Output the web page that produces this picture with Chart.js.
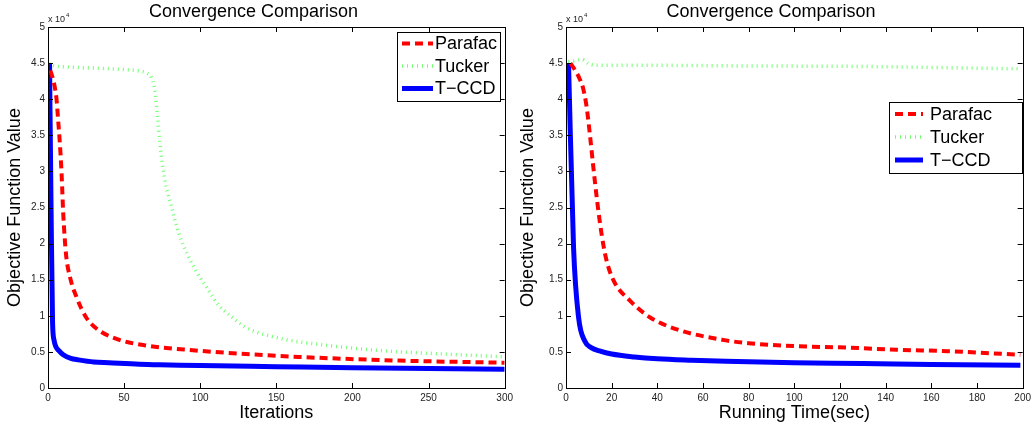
<!DOCTYPE html>
<html>
<head>
<meta charset="utf-8">
<script src="https://cdn.jsdelivr.net/npm/chart.js@4.4.1/dist/chart.umd.min.js"></script>
<style>
  body { margin: 0; background: #fff; }
  canvas { position: absolute; top: 0; }
  #chartLeft { left: 0; }
  #chartRight { left: 517px; }
</style>
</head>
<body>
<canvas id="chartLeft" width="517" height="428"></canvas>
<canvas id="chartRight" width="518" height="428"></canvas>
<script>
// objective values are in units of 10^4

// left: vs iterations
const leftParafacX = [1.5, 3, 4.6, 5.6, 6.7, 7.6, 8.9, 10, 11.8, 14.4, 18.7, 25, 32, 45, 64, 97, 130, 165, 230, 300];
const leftParafacY = [4.4, 4.3, 4.15, 4.0, 3.7, 3.45, 2.98, 2.42, 1.86, 1.54, 1.26, 0.98, 0.82, 0.68, 0.59, 0.52, 0.47, 0.43, 0.38, 0.35];
const leftTuckerX = [0.5, 1.3, 10, 32, 50, 60, 65, 68, 70, 72, 74, 77, 80, 86, 97, 104, 112, 120, 130, 152, 184, 217, 261, 300];
const leftTuckerY = [4.5, 4.48, 4.45, 4.43, 4.41, 4.39, 4.36, 4.3, 4.15, 3.75, 3.3, 2.85, 2.6, 2.14, 1.63, 1.4, 1.15, 1.0, 0.84, 0.69, 0.59, 0.52, 0.47, 0.43];
const leftTccdX = [1, 2, 3, 4, 5, 7, 10, 15, 20, 30, 40, 60, 80, 100, 150, 200, 250, 300];
const leftTccdY = [4.5, 2.5, 0.9, 0.66, 0.58, 0.52, 0.46, 0.41, 0.39, 0.36, 0.35, 0.33, 0.32, 0.31, 0.295, 0.28, 0.27, 0.26];

// right: vs running time (sec)
const rightParafacX = [1.9, 4, 6, 7.5, 9, 10.5, 12, 13.6, 15.5, 17.5, 20.8, 28, 36.7, 49.8, 70, 80, 100, 123, 145, 167, 199];
const rightParafacY = [4.5, 4.4, 4.28, 4.15, 3.9, 3.5, 3.05, 2.6, 2.15, 1.8, 1.49, 1.21, 0.98, 0.8, 0.66, 0.62, 0.58, 0.56, 0.53, 0.51, 0.46];
const rightTuckerX = [1, 4, 7, 10, 13, 36, 80, 123, 160, 199];
const rightTuckerY = [4.52, 4.53, 4.55, 4.49, 4.47, 4.47, 4.46, 4.455, 4.44, 4.42];
const rightTccdX = [1.1, 3.3, 5.5, 8.4, 11, 15, 20, 30, 40, 55, 70, 100, 130, 160, 199];
const rightTccdY = [4.5, 1.95, 0.98, 0.64, 0.56, 0.51, 0.47, 0.43, 0.405, 0.385, 0.37, 0.35, 0.34, 0.325, 0.315];

const seriesNames = ["Parafac", "Tucker", "T\u2212CCD"];
const yTickMax = 5;
const yTickStep = 0.5;

Chart.defaults.font.family = "'Liberation Sans', Arial, Helvetica, sans-serif";
Chart.defaults.color = "#222";

const pts = (xs, ys) => xs.map((x, i) => ({ x: x, y: ys[i] }));

const styles = [
    { color: "#ff0000", width: 4, dash: [8, 5] },
    { color: "rgb(110,255,110)", width: 3.5, dash: [1, 4] },
    { color: "#0000ff", width: 5, dash: [] }
];

function makeDatasets(sets) {
    return sets.map(function(s, i) {
        return {
            label: seriesNames[i],
            data: pts(s[0], s[1]),
            borderColor: styles[i].color,
            borderWidth: styles[i].width,
            borderDash: styles[i].dash,
            pointRadius: 0,
            fill: false,
            cubicInterpolationMode: "monotone"
        };
    });
}

// box, inward ticks, x10^4 label and legend the matlab way
const matlabAxes = {
    id: "matlabAxes",
    afterDraw(chart, args, opts) {
        const ctx = chart.ctx;
        const a = chart.chartArea;
        const xs = chart.scales.x, ys = chart.scales.y;
        ctx.save();
        ctx.strokeStyle = "#000";
        ctx.lineWidth = 1;
        ctx.setLineDash([]);
        ctx.beginPath();
        xs.ticks.forEach(function(t) {
            const px = Math.round(xs.getPixelForValue(t.value)) + 0.5;
            ctx.moveTo(px, a.bottom); ctx.lineTo(px, a.bottom - 5);
            ctx.moveTo(px, a.top); ctx.lineTo(px, a.top + 5);
        });
        ys.ticks.forEach(function(t) {
            const py = Math.round(ys.getPixelForValue(t.value)) + 0.5;
            ctx.moveTo(a.left, py); ctx.lineTo(a.left + 5, py);
            ctx.moveTo(a.right, py); ctx.lineTo(a.right - 5, py);
        });
        ctx.stroke();
        ctx.strokeRect(Math.round(a.left) + 0.5, Math.round(a.top) + 0.5,
            Math.round(a.right - a.left), Math.round(a.bottom - a.top));

        // exponent label
        ctx.fillStyle = "#222";
        ctx.textBaseline = "alphabetic";
        ctx.textAlign = "left";
        ctx.font = "9px 'Liberation Sans', Arial, sans-serif";
        ctx.fillText("x 10", a.left, a.top - 5);
        const w = ctx.measureText("x 10").width;
        ctx.font = "6px 'Liberation Sans', Arial, sans-serif";
        ctx.fillText("4", a.left + w + 1, a.top - 10);

        // legend
        const L = opts.legend;
        ctx.fillStyle = "#fff";
        ctx.fillRect(L.x, L.y, L.w, L.h);
        ctx.strokeRect(L.x + 0.5, L.y + 0.5, L.w, L.h);
        chart.data.datasets.forEach(function(ds, i) {
            const cy = L.rows[i];
            ctx.strokeStyle = ds.borderColor;
            ctx.lineWidth = ds.borderWidth;
            ctx.setLineDash(ds.borderDash);
            ctx.beginPath();
            ctx.moveTo(L.lineX0, cy);
            ctx.lineTo(L.lineX1, cy);
            ctx.stroke();
            ctx.setLineDash([]);
            ctx.fillStyle = "#000";
            ctx.font = "18px 'Liberation Sans', Arial, sans-serif";
            ctx.textBaseline = "middle";
            ctx.fillText(ds.label, L.textX, cy + 1);
        });
        ctx.restore();
    }
};

function makeChart(id, sets, xMax, xStep, xTitle, yWidth, yTitlePad, legend) {
    return new Chart(document.getElementById(id), {
        type: "line",
        data: { datasets: makeDatasets(sets) },
        plugins: [matlabAxes],
        options: {
            responsive: false,
            animation: false,
            layout: { padding: { left: 0, right: 10, top: 0, bottom: 0 } },
            plugins: {
                legend: { display: false },
                tooltip: { enabled: false },
                title: {
                    display: true,
                    text: "Convergence Comparison",
                    color: "#000",
                    font: { size: 18, weight: "normal" },
                    padding: { top: 1, bottom: 4.4 }
                },
                matlabAxes: { legend: legend }
            },
            scales: {
                x: {
                    type: "linear",
                    min: 0,
                    max: xMax,
                    grid: { display: false, drawTicks: false },
                    border: { display: false },
                    ticks: { stepSize: xStep, font: { size: 10 }, padding: 4, maxRotation: 0 },
                    title: { display: true, text: xTitle, color: "#000", font: { size: 18 }, padding: { top: 0, bottom: 4.2 } },
                    afterFit: function(s) { s.height = 40; }
                },
                y: {
                    min: 0,
                    max: yTickMax,
                    grid: { display: false, drawTicks: false },
                    border: { display: false },
                    ticks: {
                        stepSize: yTickStep,
                        font: { size: 10 },
                        padding: 3,
                        callback: function(v) { return String(+v.toFixed(1)); }
                    },
                    title: { display: true, text: "Objective Function Value", color: "#000", font: { size: 18 }, padding: { top: yTitlePad, bottom: 0 } },
                    afterFit: function(s) { s.width = yWidth; }
                }
            }
        }
    });
}

makeChart("chartLeft",
    [[leftParafacX, leftParafacY], [leftTuckerX, leftTuckerY], [leftTccdX, leftTccdY]],
    300, 50, "Iterations", 48, 4,
    { x: 397, y: 32, w: 103, h: 69, lineX0: 402, lineX1: 433, textX: 435, rows: [43.5, 66, 88.5] });

makeChart("chartRight",
    [[rightParafacX, rightParafacY], [rightTuckerX, rightTuckerY], [rightTccdX, rightTccdY]],
    200, 20, "Running Time(sec)", 49, 0,
    { x: 372, y: 102, w: 133, h: 71, lineX0: 378, lineX1: 406, textX: 413, rows: [114, 137, 160] });
</script>
</body>
</html>
